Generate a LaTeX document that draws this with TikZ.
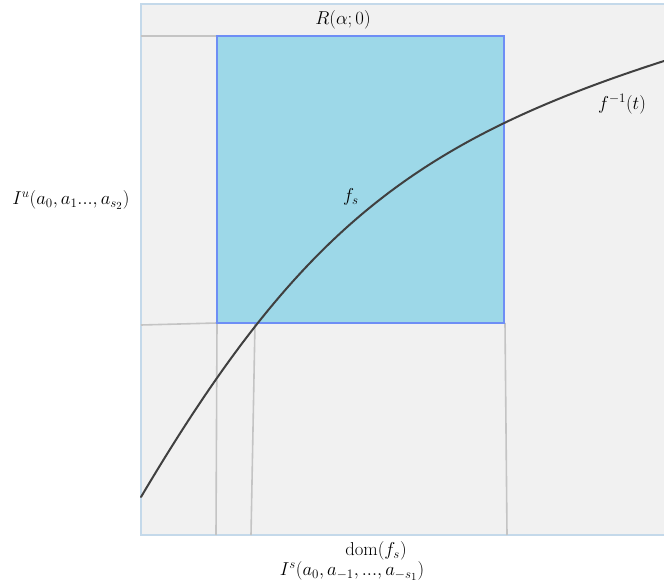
\documentclass[tikz,border=0pt]{standalone}
\usetikzlibrary{calc}
\definecolor{framebg}{HTML}{F1F1F1}
\definecolor{frameln}{HTML}{C4D9EA}
\definecolor{rectbg}{HTML}{9DD8E8}
\definecolor{rectln}{HTML}{6E8EF5}
\definecolor{guide}{HTML}{C4C4C4}
\definecolor{curvec}{HTML}{404040}
\tikzset{
  guideline/.style={draw=guide, line width=1.6pt},
  lbl/.style={inner sep=1pt, scale=1.08, font=\fontsize{17.28}{21}\selectfont},
}
\begin{document}
\begin{tikzpicture}[x=1pt,y=-1pt]
\useasboundingbox (0,0) rectangle (664,585);
\fill[white] (0,0) rectangle (664,585);
% outer frame
\draw[fill=framebg, draw=frameln, line width=2pt] (141,4) -- (667,4) -- (667,535) -- (141,535) -- cycle;
% coordinates
\coordinate (tl) at (217,36);
\coordinate (bl) at (217,323);
\coordinate (lt) at (141,36);
\coordinate (lb) at (141,325);
\coordinate (c1) at (255,323);
\coordinate (c1b) at (251,535);
\coordinate (blb) at (216,535);
\coordinate (brt) at (505,323);
\coordinate (brb) at (507,535);
\coordinate (cs) at (141,497);
\coordinate (ce) at (664,61);
% guide lines
\draw[guideline] (lt) -- (tl);
\draw[guideline] (lb) -- (bl);
\draw[guideline] (bl) -- (blb);
\draw[guideline] (c1) -- (c1b);
\draw[guideline] (brt) -- (brb);
% blue rectangle
\draw[fill=rectbg, draw=rectln, line width=1.6pt] (217,36) rectangle (504,323);
% curve
\draw[curvec, line width=2pt, line cap=round] (cs) .. controls (298,232) and (412,142) .. (ce);
% labels
\node[lbl] (R) at (343,20) {$R(\alpha;0)$};
\node[lbl] (finv) at (622,104) {$f^{-1}(t)$};
\node[lbl] (fs) at (351,197) {$f_s$};
\node[lbl] (Iu) at (71,200) {$I^u(a_0,a_1...,a_{s_2})$};
\node[lbl] (dom) at (376,551) {$\mathrm{dom}(f_s)$};
\node[lbl] (Is) at (352,571) {$I^s(a_0,a_{-1},...,a_{-s_1})$};
\end{tikzpicture}
\end{document}
